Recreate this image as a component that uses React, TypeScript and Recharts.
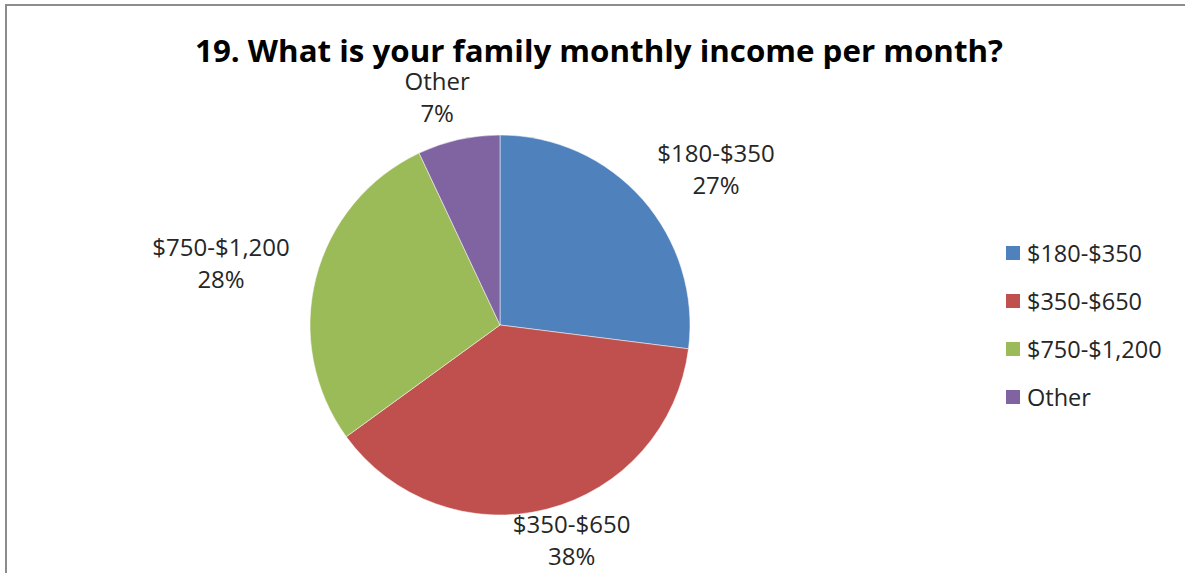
import React from "react";
import { PieChart, Pie, Cell, Legend } from "recharts";

const categories = ["$180-$350", "$350-$650", "$750-$1,200", "Other"];
const values = [27, 38, 28, 7];
const colors = ["#4F81BD", "#C0504D", "#9BBB59", "#8064A2"];
const title = "19. What is your family monthly income per month?";

const data = categories.map((name, i) => ({ name, value: values[i] }));

const FONT = "'Open Sans', 'Liberation Sans', sans-serif";
const RAD = Math.PI / 180;

const renderLabel = (props: any) => {
  const { cx, cy, midAngle, outerRadius, name, percent } = props;
  const ux = Math.cos(-midAngle * RAD);
  const uy = Math.sin(-midAngle * RAD);
  const x = cx + (outerRadius + 98) * ux;
  const y = cy + (outerRadius + 38) * uy - 4;
  return (
    <text
      x={x}
      y={y}
      textAnchor="middle"
      fill="#262626"
      fontFamily={FONT}
      fontSize={24}
    >
      <tspan x={x} y={y - 18} dominantBaseline="central">
        {name}
      </tspan>
      <tspan x={x} y={y + 14} dominantBaseline="central">
        {`${Math.round(percent * 100)}%`}
      </tspan>
    </text>
  );
};

const LegendContent = () => (
  <div style={{ fontFamily: FONT }}>
    {categories.map((c, i) => (
      <div
        key={c}
        style={{
          display: "flex",
          alignItems: "center",
          height: 48,
          fontSize: 23.5,
          color: "#262626",
        }}
      >
        <span
          style={{
            display: "inline-block",
            width: 14,
            height: 14,
            background: colors[i],
            marginRight: 7,
          }}
        />
        <span>{c}</span>
      </div>
    ))}
  </div>
);

export default function App() {
  return (
    <div
      style={{
        position: "absolute",
        left: 0,
        top: 0,
        width: 1185,
        height: 573,
        background: "#fff",
        overflow: "hidden",
      }}
    >
      <div
        style={{
          position: "absolute",
          left: 5,
          top: 4,
          width: 1200,
          height: 600,
          borderLeft: "2px solid #8c8c8c",
          borderTop: "2px solid #8c8c8c",
        }}
      />
      <div style={{ position: "absolute", left: 0, top: 0 }}>
        <PieChart
          width={1185}
          height={573}
          margin={{ top: 0, right: 0, bottom: 0, left: 0 }}
        >
          <text
            x={599}
            y={62}
            textAnchor="middle"
            fontFamily={FONT}
            fontWeight="bold"
            fontSize={30}
            fill="#000"
            textLength={808}
            lengthAdjust="spacingAndGlyphs"
          >
            {title}
          </text>
          <Pie
            data={data}
            dataKey="value"
            nameKey="name"
            cx={500}
            cy={325}
            outerRadius={190}
            startAngle={90}
            endAngle={-270}
            label={renderLabel}
            labelLine={false}
            stroke="#ffffff"
            strokeWidth={0.5}
            isAnimationActive={false}
          >
            {data.map((d, i) => (
              <Cell key={d.name} fill={colors[i]} />
            ))}
          </Pie>
          <Legend
            layout="vertical"
            align="right"
            verticalAlign="top"
            content={<LegendContent />}
            wrapperStyle={{ left: 1006, top: 229, width: 175 }}
          />
        </PieChart>
      </div>
    </div>
  );
}
